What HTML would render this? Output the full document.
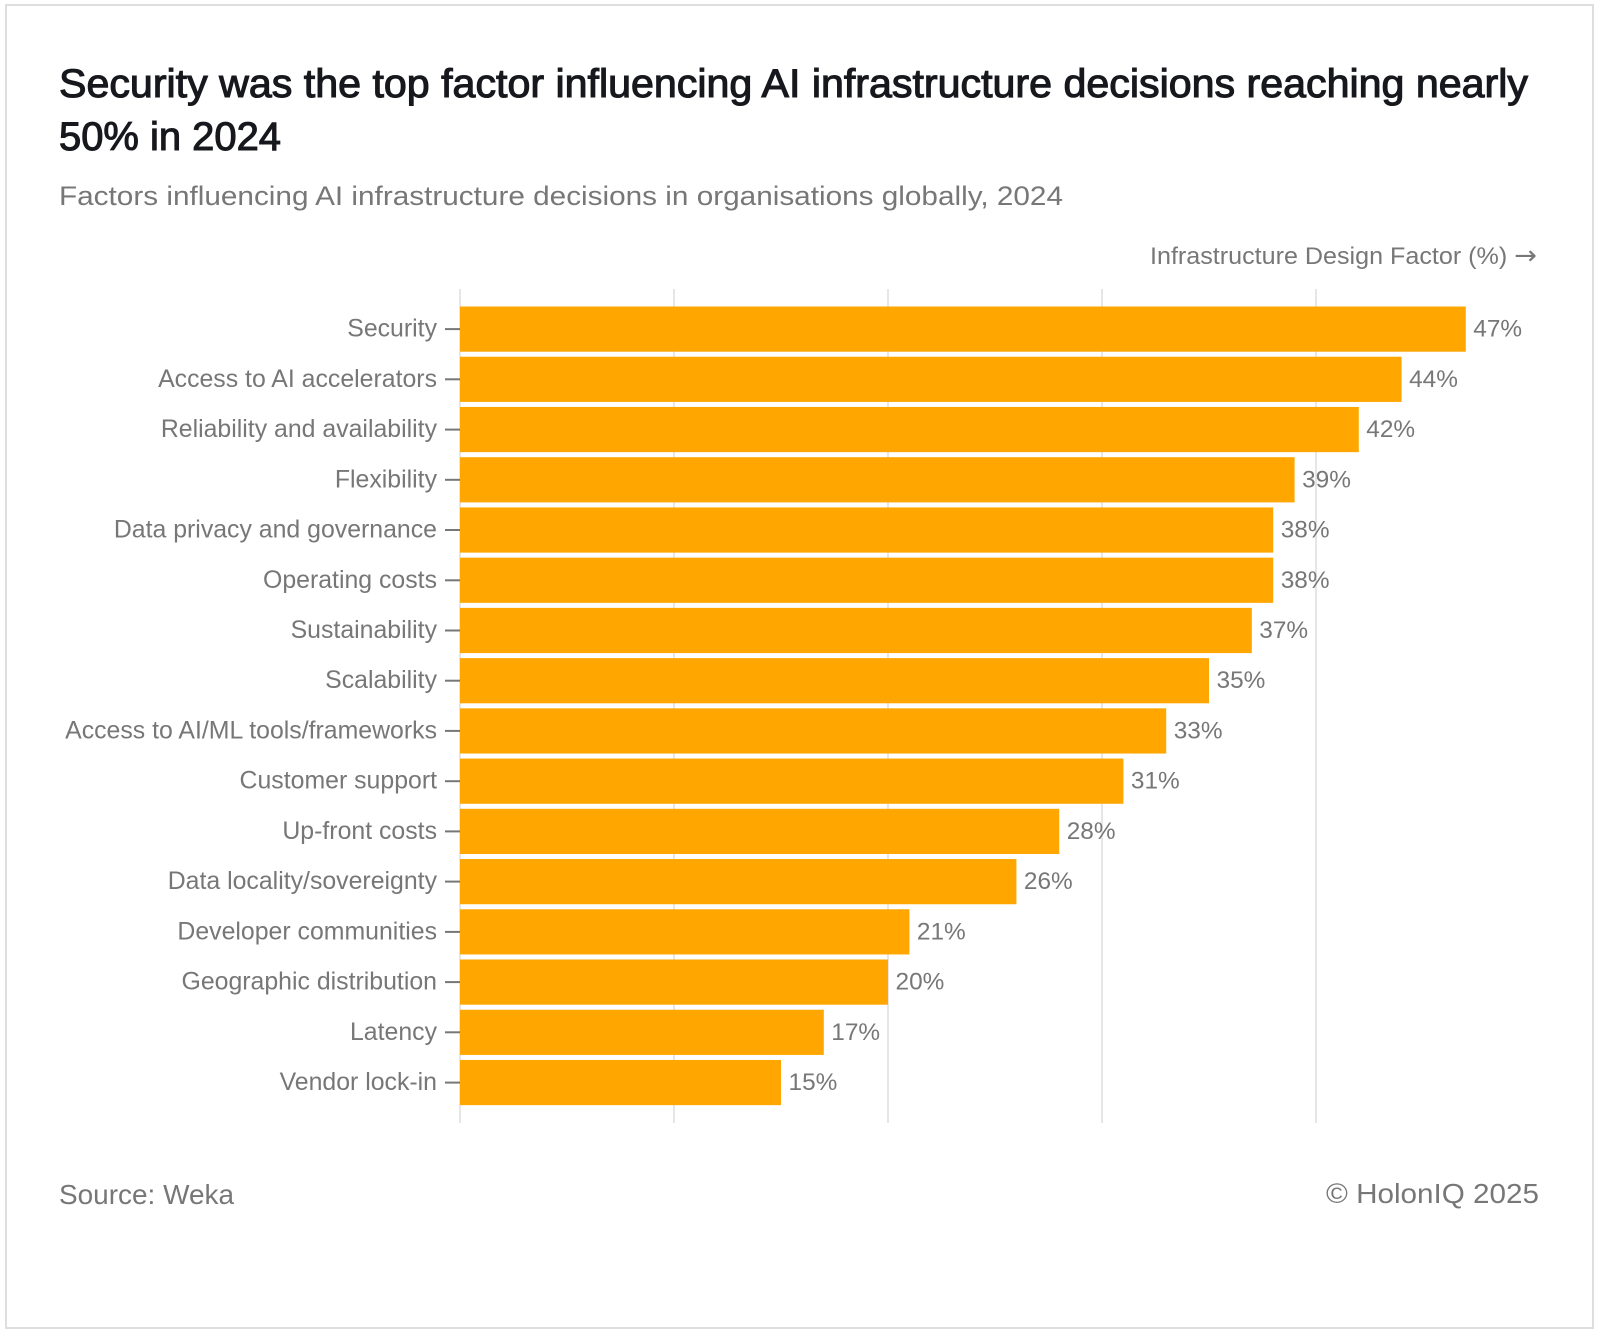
<!DOCTYPE html>
<html><head><meta charset="utf-8"><style>
html,body{margin:0;padding:0;background:#fff;}
svg{display:block;}
text{font-family:"Liberation Sans",Arial,sans-serif;}
</style></head><body>
<svg width="1600" height="1334" viewBox="0 0 1600 1334" xmlns="http://www.w3.org/2000/svg">
<rect x="0" y="0" width="1600" height="1334" fill="#fff"/>
<rect x="6" y="5" width="1587" height="1323" fill="#fff" stroke="#dedede" stroke-width="2"/>

<text x="59" y="97" font-size="40" fill="#16181d" stroke="#16181d" stroke-width="1.1" textLength="1469" lengthAdjust="spacingAndGlyphs">Security was the top factor influencing AI infrastructure decisions reaching nearly</text>
<text x="59" y="150" font-size="40" fill="#16181d" stroke="#16181d" stroke-width="1.1" textLength="222" lengthAdjust="spacingAndGlyphs">50% in 2024</text>
<text x="59" y="205" font-size="27" fill="#777" textLength="1004" lengthAdjust="spacingAndGlyphs">Factors influencing AI infrastructure decisions in organisations globally, 2024</text>

<text x="1537" y="264" font-size="24" fill="#777" text-anchor="end" textLength="387" lengthAdjust="spacingAndGlyphs">Infrastructure Design Factor (%) <tspan font-family="DejaVu Sans" font-size="26">→</tspan></text>

<g stroke="#e6e6e6" stroke-width="2">
<line x1="460" y1="289" x2="460" y2="1123"/>
<line x1="674" y1="289" x2="674" y2="1123"/>
<line x1="888" y1="289" x2="888" y2="1123"/>
<line x1="1102" y1="289" x2="1102" y2="1123"/>
<line x1="1316" y1="289" x2="1316" y2="1123"/>
</g>

<g fill="#ffa600">
<rect x="460" y="306.5" width="1005.8" height="45.2"/>
<rect x="460" y="356.73" width="941.6" height="45.2"/>
<rect x="460" y="406.96" width="898.8" height="45.2"/>
<rect x="460" y="457.19" width="834.6" height="45.2"/>
<rect x="460" y="507.42" width="813.2" height="45.2"/>
<rect x="460" y="557.65" width="813.2" height="45.2"/>
<rect x="460" y="607.88" width="791.8" height="45.2"/>
<rect x="460" y="658.11" width="749" height="45.2"/>
<rect x="460" y="708.34" width="706.2" height="45.2"/>
<rect x="460" y="758.57" width="663.4" height="45.2"/>
<rect x="460" y="808.8" width="599.2" height="45.2"/>
<rect x="460" y="859.03" width="556.4" height="45.2"/>
<rect x="460" y="909.26" width="449.4" height="45.2"/>
<rect x="460" y="959.49" width="428" height="45.2"/>
<rect x="460" y="1009.72" width="363.8" height="45.2"/>
<rect x="460" y="1059.95" width="321" height="45.2"/>
</g>

<g stroke="#777" stroke-width="2">
<line x1="445" y1="329.1" x2="460" y2="329.1"/>
<line x1="445" y1="379.3" x2="460" y2="379.3"/>
<line x1="445" y1="429.6" x2="460" y2="429.6"/>
<line x1="445" y1="479.8" x2="460" y2="479.8"/>
<line x1="445" y1="530.0" x2="460" y2="530.0"/>
<line x1="445" y1="580.3" x2="460" y2="580.3"/>
<line x1="445" y1="630.5" x2="460" y2="630.5"/>
<line x1="445" y1="680.7" x2="460" y2="680.7"/>
<line x1="445" y1="730.9" x2="460" y2="730.9"/>
<line x1="445" y1="781.2" x2="460" y2="781.2"/>
<line x1="445" y1="831.4" x2="460" y2="831.4"/>
<line x1="445" y1="881.6" x2="460" y2="881.6"/>
<line x1="445" y1="931.9" x2="460" y2="931.9"/>
<line x1="445" y1="982.1" x2="460" y2="982.1"/>
<line x1="445" y1="1032.3" x2="460" y2="1032.3"/>
<line x1="445" y1="1082.6" x2="460" y2="1082.6"/>
</g>

<g font-size="24.85" fill="#777" text-anchor="end">
<text x="437" y="336.6">Security</text>
<text x="437" y="386.8">Access to AI accelerators</text>
<text x="437" y="437.1">Reliability and availability</text>
<text x="437" y="487.3">Flexibility</text>
<text x="437" y="537.5">Data privacy and governance</text>
<text x="437" y="587.8">Operating costs</text>
<text x="437" y="638.0">Sustainability</text>
<text x="437" y="688.2">Scalability</text>
<text x="437" y="738.4">Access to AI/ML tools/frameworks</text>
<text x="437" y="788.7">Customer support</text>
<text x="437" y="838.9">Up-front costs</text>
<text x="437" y="889.1">Data locality/sovereignty</text>
<text x="437" y="939.4">Developer communities</text>
<text x="437" y="989.6">Geographic distribution</text>
<text x="437" y="1039.8">Latency</text>
<text x="437" y="1090.1">Vendor lock-in</text>
</g>

<g font-size="24.4" fill="#777">
<text x="1473.3" y="336.6">47%</text>
<text x="1409.1" y="386.8">44%</text>
<text x="1366.3" y="437.1">42%</text>
<text x="1302.1" y="487.3">39%</text>
<text x="1280.7" y="537.5">38%</text>
<text x="1280.7" y="587.8">38%</text>
<text x="1259.3" y="638.0">37%</text>
<text x="1216.5" y="688.2">35%</text>
<text x="1173.7" y="738.4">33%</text>
<text x="1130.9" y="788.7">31%</text>
<text x="1066.7" y="838.9">28%</text>
<text x="1023.9" y="889.1">26%</text>
<text x="916.9" y="939.4">21%</text>
<text x="895.5" y="989.6">20%</text>
<text x="831.3" y="1039.8">17%</text>
<text x="788.5" y="1090.1">15%</text>
</g>

<text x="59" y="1204" font-size="28" fill="#777" textLength="175" lengthAdjust="spacingAndGlyphs">Source: Weka</text>
<text x="1326" y="1203" font-size="28" fill="#777" textLength="213" lengthAdjust="spacingAndGlyphs">© HolonIQ 2025</text>
</svg>
</body></html>
